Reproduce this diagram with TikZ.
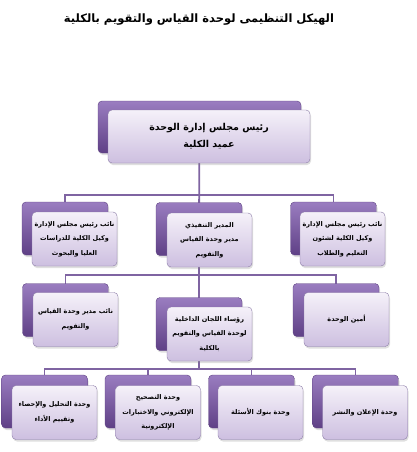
\documentclass[tikz,border=0pt]{standalone}
\usepackage{fontspec}
\newfontfamily\arfont[Script=Arabic]{DejaVu Sans}
\TeXXeTstate=1
\usetikzlibrary{shadows,backgrounds}
\definecolor{pline}{HTML}{7F64A2}
\definecolor{pdark}{HTML}{5E4282}
\definecolor{ptop}{HTML}{9A7DC0}
\definecolor{pbot}{HTML}{5F4086}
\definecolor{fedge}{HTML}{8A7AA6}
\definecolor{ftop}{HTML}{F5F1F9}
\definecolor{fbot}{HTML}{CDBFE0}
\newcommand\Rl[1]{\beginR #1\endR}
\begin{document}
\begin{tikzpicture}[x=1pt,y=-1pt,
  backbox/.style={rounded corners=4pt, minimum width=86pt, minimum height=53pt,
    draw=pdark, top color=ptop, bottom color=pbot, inner sep=0pt,
    drop shadow={opacity=0.25, shadow xshift=1pt, shadow yshift=-2pt}},
  frontbox/.style={rounded corners=4pt, minimum width=85pt, minimum height=54pt,
    draw=fedge, top color=ftop, bottom color=fbot, align=center, inner sep=1pt,
    font=\arfont\bfseries\fontsize{6.5}{14.5}\selectfont,
    drop shadow={opacity=0.25, shadow xshift=1pt, shadow yshift=-2pt}},
  conn/.style={draw=pline, line width=1.8pt},
  titlestyle/.style={font=\arfont\bfseries\fontsize{11.5}{16}\selectfont, inner sep=0pt}
]
\useasboundingbox (0,0) rectangle (416,452);

\node[titlestyle] (title) at (199,20) {\Rl{الهيكل التنظيمى لوحدة القياس والتقويم بالكلية}};

% top
\node[backbox, minimum width=203pt, minimum height=52pt] (topb) at (199.5,127) {};
\node[frontbox, minimum width=202pt, minimum height=53pt,
  font=\arfont\bfseries\fontsize{9.5}{17}\selectfont] (topf) at (209,136.5)
  {\Rl{رئيس مجلس إدارة الوحدة}\\\Rl{عميد الكلية}};

% level 2
\node[backbox] (l2ab) at (65,228.5) {};
\node[frontbox] (l2af) at (74.5,239) {\Rl{نائب رئيس مجلس الإدارة}\\\Rl{وكيل الكلية للدراسات}\\\Rl{العليا والبحوث}};
\node[backbox] (l2bb) at (199,229) {};
\node[frontbox] (l2bf) at (209.5,240) {\Rl{المدير التنفيذي}\\\Rl{مدير وحدة القياس}\\\Rl{والتقويم}};
\node[backbox] (l2cb) at (333.5,228.5) {};
\node[frontbox] (l2cf) at (342.5,239) {\Rl{نائب رئيس مجلس الإدارة}\\\Rl{وكيل الكلية لشئون}\\\Rl{التعليم والطلاب}};

% level 3
\node[backbox] (l3ab) at (65.5,310) {};
\node[frontbox] (l3af) at (75.5,319.5) {\Rl{نائب مدير وحدة القياس}\\\Rl{والتقويم}};
\node[backbox] (l3bb) at (199,324) {};
\node[frontbox] (l3bf) at (209.5,334) {\Rl{رؤساء اللجان الداخلية}\\\Rl{لوحدة القياس والتقويم}\\\Rl{بالكلية}};
\node[backbox] (l3cb) at (336,310) {};
\node[frontbox] (l3cf) at (346.5,319.5) {\Rl{أمين الوحدة}};

% level 4
\node[backbox] (l4ab) at (44.5,401.5) {};
\node[frontbox] (l4af) at (54.5,412.5) {\Rl{وحدة التحليل والإحصاء}\\\Rl{وتقييم الأداء}};
\node[backbox] (l4bb) at (148,401.5) {};
\node[frontbox] (l4bf) at (158,412.5) {\Rl{وحدة التصحيح}\\\Rl{الإلكتروني والاختبارات}\\\Rl{الإلكترونية}};
\node[backbox] (l4cb) at (251.5,401.5) {};
\node[frontbox] (l4cf) at (260.5,412.5) {\Rl{وحدة بنوك الأسئلة}};
\node[backbox] (l4db) at (355.5,401.5) {};
\node[frontbox] (l4df) at (365,412.5) {\Rl{وحدة الإعلان والنشر}};

\coordinate (bus1) at (0,195);
\coordinate (bus2) at (0,275);
\coordinate (bus3) at (0,369);

\begin{pgfonlayer}{background}
  \draw[conn] (topb.center) -- (l2bb.center);
  \draw[conn] (l2ab.center) -- (l2ab.center |- bus1) -- (l2cb.center |- bus1) -- (l2cb.center);
  \draw[conn] (l2bb.center) -- (l3bb.center);
  \draw[conn] (l3ab.center) -- (l3ab.center |- bus2) -- (l3cb.center |- bus2) -- (l3cb.center);
  \draw[conn] (l3bb.center) -- (l3bb.center |- bus3);
  \draw[conn] (l4ab.center) -- (l4ab.center |- bus3) -- (l4db.center |- bus3) -- (l4db.center);
  \draw[conn] (l4bb.center) -- (l4bb.center |- bus3);
  \draw[conn] (l4cb.center) -- (l4cb.center |- bus3);
\end{pgfonlayer}
\end{tikzpicture}
\end{document}
